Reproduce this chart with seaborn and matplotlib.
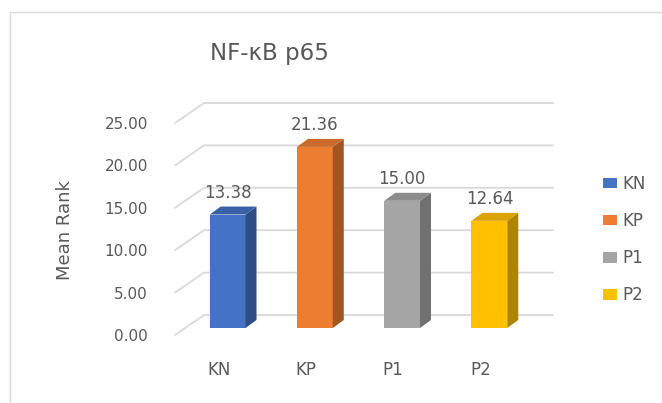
import matplotlib.pyplot as plt
import matplotlib.colors as mcolors
from matplotlib.patches import Polygon, Rectangle
import seaborn as sns
import pandas as pd

# Data
groups = ['KN', 'KP', 'P1', 'P2']
mean_rank = [13.38, 21.36, 15.00, 12.64]
colors = ['#4472C4', '#ED7D31', '#A5A5A5', '#FFC000']
yticks = [0, 5, 10, 15, 20, 25]

df = pd.DataFrame({'group': groups, 'mean_rank': mean_rank})

W, H = 662, 403
sns.set_theme(style='white')
plt.rcParams['font.family'] = ['DejaVu Sans']
grey = '#595959'
grid_col = '#D9D9D9'


def shade(c, f):
    r, g, b = mcolors.to_rgb(c)
    return (r * f, g * f, b * f)


fig = plt.figure(figsize=(W / 100, H / 100), dpi=100)

# front plane of the fake 3D box, in pixels
left, right, top, bottom = 175, 524, 123, 335
ax = fig.add_axes([left / W, 1 - bottom / H, (right - left) / W, (bottom - top) / H])

sns.barplot(data=df, x='group', y='mean_rank', hue='group', palette=colors,
            width=0.41, saturation=1, linewidth=0, legend=True, ax=ax, zorder=3)
ax.set_xlim(-0.5, 3.5)
ax.set_ylim(0, 25)

# pixels per data unit, used to turn pixel depth offsets into data offsets
sx = (right - left) / 4
sy = (bottom - top) / 25

# back wall grid lines with the left side-wall diagonal
gx, gy = 29 / sx, 20 / sy
for v in yticks:
    ax.plot([-0.5, -0.5 + gx, 3.5 + gx], [v, v + gy, v + gy],
            color=grid_col, lw=1.3, clip_on=False, zorder=1)

# bars sit half way into the box, then get a side and a top face
ox, oy = 9 / sx, 7 / sy
dx, dy = 11 / sx, 8 / sy
for bars, col in zip(ax.containers, colors):
    for bar in bars:
        bar.set_x(bar.get_x() + ox)
        bar.set_y(oy)
        bar.set_clip_on(False)
        x0 = bar.get_x()
        x1 = x0 + bar.get_width()
        y0 = bar.get_y()
        y1 = y0 + bar.get_height()
        ax.add_patch(Polygon([(x1, y0), (x1 + dx, y0 + dy), (x1 + dx, y1 + dy), (x1, y1)],
                             closed=True, color=shade(col, 0.68), lw=0, zorder=3, clip_on=False))
        ax.add_patch(Polygon([(x0, y1), (x1, y1), (x1 + dx, y1 + dy), (x0 + dx, y1 + dy)],
                             closed=True, color=shade(col, 0.85), lw=0, zorder=3, clip_on=False))
    ax.bar_label(bars, labels=[f'{v:.2f}' for v in bars.datavalues],
                 padding=9, fontsize=12, color=grey)

for s in ax.spines.values():
    s.set_visible(False)
ax.set_yticks(yticks)
ax.set_yticklabels([f'{v:.2f}' for v in yticks])
ax.tick_params(axis='y', length=0, pad=19.4, labelsize=11, labelcolor=grey)
ax.tick_params(axis='x', length=0, pad=19, labelsize=12, labelcolor=grey)
ax.set_xlabel('')
ax.set_ylabel('')

fig.text(65 / W, 1 - 230 / H, 'Mean Rank', rotation=90, ha='center', va='center',
         fontsize=13, color=grey)
fig.text(269 / W, 1 - 60 / H, 'NF-κB p65', ha='center', va='baseline',
         fontsize=16.5, color=grey)

sns.move_legend(ax, 'center left', bbox_to_anchor=(603 / W, 1 - 239.5 / H),
                bbox_transform=fig.transFigure, frameon=False, title=None,
                fontsize=12, labelcolor=grey, handlelength=0.84, handleheight=0.6,
                handletextpad=0.3, labelspacing=1.15, borderpad=0, borderaxespad=0)

# chart area border
fig.add_artist(Rectangle((9.5 / W, -0.1), 2, 1 - 11.5 / H + 0.1, transform=fig.transFigure,
                         fill=False, edgecolor=grid_col, lw=1))

fig.savefig('out.png', dpi=100)
